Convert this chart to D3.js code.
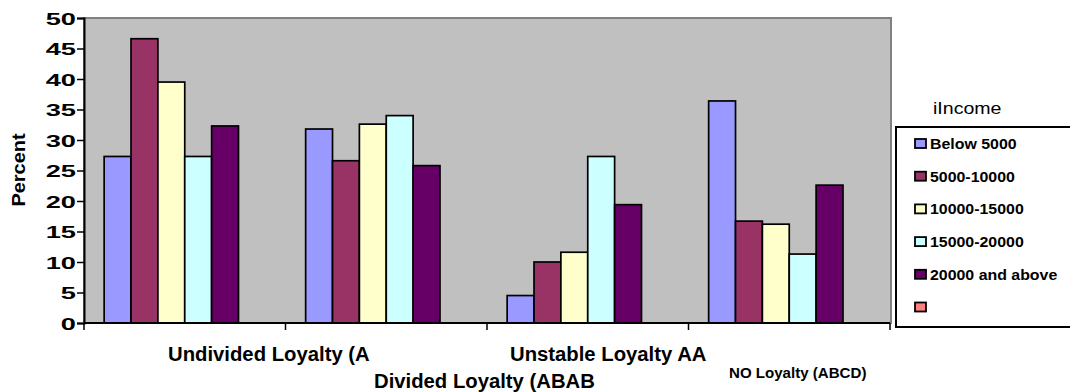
<!DOCTYPE html>
<html>
<head>
<meta charset="utf-8">
<script src="https://cdn.jsdelivr.net/npm/d3@7"></script>
<style>
  html, body { margin: 0; padding: 0; background: #ffffff; }
  svg { display: block; font-family: "Liberation Sans", Arial, sans-serif; }
</style>
</head>
<body>
<svg id="chart" width="1070" height="392"></svg>
<script>
// Loyalty categories along the x axis
const categories = ["Undivided Loyalty (A", "Divided Loyalty (ABAB", "Unstable Loyalty AA", "NO Loyalty (ABCD)"];
// Income groups (the sixth series is empty, it only keeps its slot and legend swatch)
const seriesNames = ["Below 5000", "5000-10000", "10000-15000", "15000-20000", "20000 and above", ""];
const seriesColors = ["#9999FF", "#993366", "#FFFFCC", "#CCFFFF", "#660066", "#FF8080"];
// Percent values per income group, one entry per category
const below5000   = [27.3, 31.8, 4.5, 36.4];
const from5000    = [46.6, 26.6, 10.0, 16.7];
const from10000   = [39.5, 32.6, 11.6, 16.2];
const from15000   = [27.3, 34.0, 27.3, 11.3];
const above20000  = [32.3, 25.8, 19.4, 22.6];
const emptySeries = [null, null, null, null];
const seriesValues = [below5000, from5000, from10000, from15000, above20000, emptySeries];
const yTicks = [0, 5, 10, 15, 20, 25, 30, 35, 40, 45, 50];

const svg = d3.select("#chart");
const plot = { left: 84, right: 890, top: 18, bottom: 323 };

// widen text glyphs horizontally by a factor
function widen(sel, factor) {
  sel.each(function () {
    const w = this.getComputedTextLength();
    if (w > 0) {
      d3.select(this).attr("textLength", w * factor).attr("lengthAdjust", "spacingAndGlyphs");
    }
  });
}

const x0 = d3.scaleBand().domain(categories).range([plot.left, plot.right]).padding(0);
const x1 = d3.scaleBand().domain(d3.range(seriesNames.length))
  .range([0, x0.bandwidth()]).paddingInner(0).paddingOuter(0.75);
const y = d3.scaleLinear().domain([0, 50]).range([plot.bottom, plot.top]);

// plot area
svg.append("rect")
  .attr("x", plot.left).attr("y", plot.top)
  .attr("width", plot.right - plot.left + 1).attr("height", plot.bottom - plot.top)
  .attr("fill", "#C0C0C0").attr("stroke", "#808080").attr("stroke-width", 2);

// bars
const groups = svg.append("g").selectAll("g")
  .data(categories).join("g")
  .attr("transform", d => `translate(${x0(d)},0)`);

groups.selectAll("rect")
  .data((c, ci) => seriesValues.map((vals, si) => ({ si, v: vals[ci] })).filter(d => d.v != null))
  .join("rect")
  .attr("x", d => x1(d.si))
  .attr("width", x1.bandwidth())
  .attr("y", d => y(d.v))
  .attr("height", d => y(0) - y(d.v))
  .attr("fill", d => seriesColors[d.si])
  .attr("stroke", "#000").attr("stroke-width", 1.7);

// y axis
const yAxis = svg.append("g")
  .attr("transform", `translate(${plot.left},0)`)
  .call(d3.axisLeft(y).tickValues(yTicks).tickSize(7).tickPadding(1));
yAxis.select(".domain").attr("stroke", "#000").attr("stroke-width", 2);
yAxis.selectAll(".tick line").attr("stroke", "#000").attr("stroke-width", 1.5);
yAxis.selectAll(".tick text")
  .attr("font-family", "Liberation Sans, Arial, sans-serif")
  .attr("font-size", 17).attr("font-weight", "bold").attr("fill", "#000")
  .attr("dy", "0.36em");
widen(yAxis.selectAll(".tick text"), 1.6);

// x axis line with category boundary ticks
const bounds = categories.map(c => x0(c)).concat([plot.right]);
svg.append("line")
  .attr("x1", plot.left).attr("x2", plot.right)
  .attr("y1", plot.bottom).attr("y2", plot.bottom)
  .attr("stroke", "#000").attr("stroke-width", 2);
svg.append("g").selectAll("line").data(bounds).join("line")
  .attr("x1", d => d).attr("x2", d => d)
  .attr("y1", plot.bottom).attr("y2", plot.bottom + 7)
  .attr("stroke", "#000").attr("stroke-width", 1.5);

// staggered category labels
const labelPos = [
  { x: 168, y: 361, size: 19.5 },
  { x: 374, y: 388, size: 19.5 },
  { x: 510, y: 361, size: 19.5 },
  { x: 729, y: 378, size: 14.5 }
];
const catLabels = svg.append("g").selectAll("text").data(categories).join("text")
  .attr("x", (d, i) => labelPos[i].x)
  .attr("y", (d, i) => labelPos[i].y)
  .attr("font-size", (d, i) => labelPos[i].size)
  .attr("font-weight", "bold")
  .attr("fill", "#000")
  .text(d => d);
widen(catLabels, 1.04);

// y axis title
const yTitle = svg.append("text")
  .attr("transform", "translate(25,170) rotate(-90)")
  .attr("text-anchor", "middle")
  .attr("font-size", 17.5).attr("font-weight", "bold")
  .text("Percent");
widen(yTitle, 1.14);

// legend
const legendTitle = svg.append("text")
  .attr("x", 933).attr("y", 114)
  .attr("font-size", 17)
  .text("iIncome");
widen(legendTitle, 1.15);

const legend = svg.append("g");
legend.append("rect")
  .attr("x", 896).attr("y", 127).attr("width", 200).attr("height", 200)
  .attr("fill", "#fff").attr("stroke", "#000").attr("stroke-width", 2);
const items = legend.selectAll("g.item").data(seriesNames).join("g")
  .attr("class", "item")
  .attr("transform", (d, i) => `translate(915,${143.5 + i * 32.7})`);
items.append("rect")
  .attr("x", 0).attr("y", -4.5).attr("width", 11).attr("height", 9)
  .attr("fill", (d, i) => seriesColors[i]).attr("stroke", "#000").attr("stroke-width", 1.8);
const legendText = items.append("text")
  .attr("x", 15).attr("y", 5.5)
  .attr("font-size", 15).attr("font-weight", "bold")
  .text(d => d);
widen(legendText, 1.06);
</script>
</body>
</html>
